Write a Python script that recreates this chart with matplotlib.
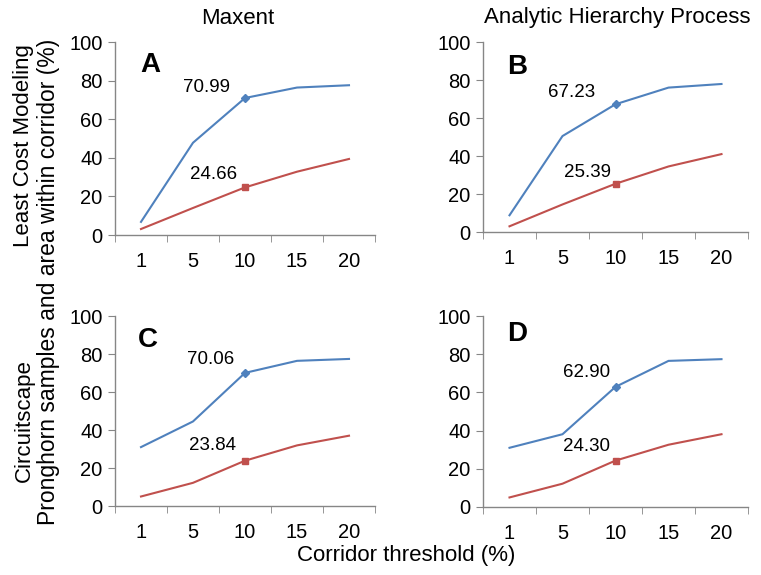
import matplotlib
matplotlib.use("Agg")
import matplotlib.pyplot as plt
import numpy as np

plt.rcParams['font.family'] = ['Liberation Sans', 'DejaVu Sans']

thresholds = ["1", "5", "10", "15", "20"]

# Pronghorn samples within corridor (%)
samples_A = [6.8, 47.8, 70.99, 76.4, 77.6]
samples_B = [8.8, 50.5, 67.23, 76.0, 77.9]
samples_C = [31.0, 44.5, 70.06, 76.4, 77.4]
samples_D = [31.0, 38.1, 62.90, 76.5, 77.4]

# Area within corridor (%)
area_A = [3.1, 14.0, 24.66, 32.8, 39.4]
area_B = [3.0, 14.5, 25.39, 34.5, 41.0]
area_C = [5.0, 12.2, 23.84, 31.9, 37.0]
area_D = [5.0, 12.2, 24.30, 32.6, 38.1]

panel_letters = ["A", "B", "C", "D"]
col_titles = ["Maxent", "Analytic Hierarchy Process"]
row_titles = ["Least Cost Modeling", "Circuitscape"]

BLUE = "#4F81BD"
RED = "#C0504D"
GRAY = "#868686"

W, H = 761, 575
fig = plt.figure(figsize=(W / 100, H / 100), dpi=100)

def frac(l, r, b, t):
    return [l / W, 1 - b / H, (r - l) / W, (b - t) / H]

rects = [frac(115, 375, 235, 42), frac(483, 748, 232, 42),
         frac(115, 375, 506, 316), frac(483, 748, 507, 316)]
samples = [samples_A, samples_B, samples_C, samples_D]
areas = [area_A, area_B, area_C, area_D]
# label offsets in pixels (dx, dy) for blue and red annotations
blue_off = [(-38, 2), (-44, 3), (-34, 5), (-29, 6)]
red_off = [(-31, 4), (-28, 3), (-33, 7), (-29, 6)]
letter_pos = [(0.135, 0.88), (0.13, 0.87), (0.128, 0.875), (0.13, 0.905)]

x = np.arange(len(thresholds))
px = 72 / 100.0

for i, rect in enumerate(rects):
    ax = fig.add_axes(rect)
    s = samples[i]
    a = areas[i]
    ax.plot(x, s, color=BLUE, lw=1.5, solid_joinstyle='miter')
    ax.plot(x, a, color=RED, lw=1.5, solid_joinstyle='miter')
    ax.plot(x[2], s[2], marker='D', color=BLUE, ms=4.5, mec=BLUE)
    ax.plot(x[2], a[2], marker='s', color=RED, ms=5.0, mec=RED)
    ax.annotate(f"{s[2]:.2f}", (x[2], s[2]), xytext=(blue_off[i][0] * px, blue_off[i][1] * px),
                textcoords='offset points', ha='center', va='bottom', fontsize=13.5)
    ax.annotate(f"{a[2]:.2f}", (x[2], a[2]), xytext=(red_off[i][0] * px, red_off[i][1] * px),
                textcoords='offset points', ha='center', va='bottom', fontsize=13.5)
    ax.text(letter_pos[i][0], letter_pos[i][1], panel_letters[i], transform=ax.transAxes,
            fontsize=20, fontweight='bold', ha='center', va='center')

    ax.set_xlim(-0.5, len(thresholds) - 0.5)
    ax.set_ylim(0, 100)
    ax.set_yticks(np.arange(0, 101, 20))
    ax.set_xticks(x)
    ax.set_xticklabels(thresholds)
    ax.set_xticks(np.arange(-0.5, len(thresholds)), minor=True)
    ax.tick_params(axis='x', which='major', length=0, labelsize=14.5, pad=12)
    ax.tick_params(axis='x', which='minor', length=5, color=GRAY, direction='out')
    ax.tick_params(axis='y', length=5, color=GRAY, labelsize=14.5, pad=4)
    for sp in ['top', 'right']:
        ax.spines[sp].set_visible(False)
    for sp in ['left', 'bottom']:
        ax.spines[sp].set_color(GRAY)
        ax.spines[sp].set_linewidth(1.0)

fs = 16
fig.text(238 / W, 1 - 18 / H, col_titles[0], fontsize=fs, ha='center', va='center')
fig.text(617 / W, 1 - 18 / H, col_titles[1], fontsize=fs, ha='center', va='center')
fig.text(24 / W, 1 - 146 / H, row_titles[0], fontsize=fs, ha='center', va='center', rotation=90)
fig.text(24 / W, 1 - 421 / H, row_titles[1], fontsize=fs, ha='center', va='center', rotation=90)
fig.text(49 / W, 1 - 282 / H, "Pronghorn samples and area within corridor (%)", fontsize=16.5,
         ha='center', va='center', rotation=90)
fig.text(406 / W, 1 - 555 / H, "Corridor threshold (%)", fontsize=fs, ha='center', va='center')

fig.savefig("out.png", dpi=100)
